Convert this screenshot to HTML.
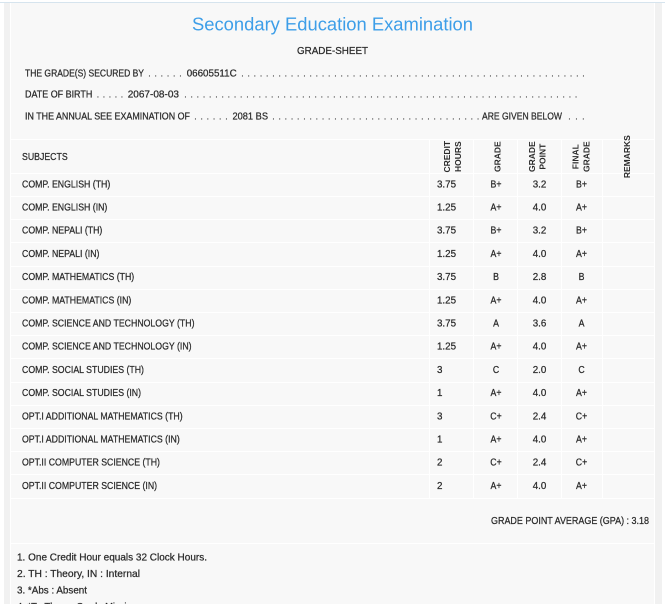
<!DOCTYPE html>
<html><head><meta charset="utf-8"><style>
html,body{margin:0;padding:0;background:#fff;}
svg{display:block;}
.t{font-family:"Liberation Sans",sans-serif;font-size:10.3px;fill:#2b2b2b;stroke:#2b2b2b;stroke-width:0.25px;}
.h{font-family:"Liberation Sans",sans-serif;font-size:8.5px;font-weight:bold;fill:#2b2b2b;}
.d{font-family:"Liberation Sans",sans-serif;font-size:10.3px;fill:#2b2b2b;letter-spacing:3.34px;}
</style></head><body>
<svg width="665" height="604" viewBox="0 0 665 604" xmlns="http://www.w3.org/2000/svg">
<rect x="0" y="0" width="665" height="604" fill="#fff"/>
<rect x="0" y="2" width="665" height="1" fill="#d6e4ee"/>
<rect x="4" y="3" width="658" height="601" fill="#f1f1f1"/>
<rect x="10" y="3" width="645" height="601" fill="#f8f8f8"/>
<rect x="10" y="3" width="1" height="601" fill="#fff"/>
<rect x="654" y="3" width="1" height="601" fill="#fff"/>

<!-- title -->
<text x="192" y="30.5" textLength="281" lengthAdjust="spacingAndGlyphs" style="font-family:'Liberation Sans',sans-serif;font-size:18.5px;fill:#3d9ee8;">Secondary Education Examination</text>
<text class="t" x="297" y="54" textLength="71" lengthAdjust="spacingAndGlyphs" style="font-size:10.5px">GRADE-SHEET</text>

<!-- info lines -->
<text class="t" x="25" y="76.5" textLength="119" lengthAdjust="spacingAndGlyphs">THE GRADE(S) SECURED BY</text>
<text class="d" x="148" y="76.5">......</text>
<text class="t" x="186.7" y="76.5" textLength="50" lengthAdjust="spacingAndGlyphs">06605511C</text>
<text class="d" x="241" y="76.5">........................................................</text>

<text class="t" x="25" y="97.5" textLength="67.3" lengthAdjust="spacingAndGlyphs">DATE OF BIRTH</text>
<text class="d" x="96.5" y="97.5" style="letter-spacing:3.14px">.....</text>
<text class="t" x="127.7" y="97.5" textLength="51.3" lengthAdjust="spacingAndGlyphs">2067-08-03</text>
<text class="d" x="184" y="97.5">................................................................</text>

<text class="t" x="25" y="119.5" textLength="165" lengthAdjust="spacingAndGlyphs">IN THE ANNUAL SEE EXAMINATION OF</text>
<text class="d" x="194" y="119.5">......</text>
<text class="t" x="232.5" y="119.5" textLength="35.5" lengthAdjust="spacingAndGlyphs">2081 BS</text>
<text class="d" x="272" y="119.5">..................................</text>
<text class="t" x="482" y="119.5" textLength="80" lengthAdjust="spacingAndGlyphs">ARE GIVEN BELOW</text>
<text class="d" x="568" y="119.5" style="letter-spacing:4.1px">...</text>

<!-- grid horizontal -->
<g fill="#fff">
<rect x="10" y="139" width="645" height="1"/>
<rect x="10" y="173" width="645" height="1"/>
<rect x="10" y="196" width="645" height="1"/>
<rect x="10" y="219" width="645" height="1"/>
<rect x="10" y="242" width="645" height="1"/>
<rect x="10" y="266" width="645" height="1"/>
<rect x="10" y="289" width="645" height="1"/>
<rect x="10" y="312" width="645" height="1"/>
<rect x="10" y="335" width="645" height="1"/>
<rect x="10" y="358" width="645" height="1"/>
<rect x="10" y="382" width="645" height="1"/>
<rect x="10" y="405" width="645" height="1"/>
<rect x="10" y="428" width="645" height="1"/>
<rect x="10" y="451" width="645" height="1"/>
<rect x="10" y="474" width="645" height="1"/>
<rect x="10" y="498" width="645" height="1"/>
<rect x="10" y="543" width="645" height="1"/>
<!-- vertical -->
<rect x="429" y="139" width="1" height="359"/>
<rect x="473" y="139" width="1" height="359"/>
<rect x="517" y="139" width="1" height="359"/>
<rect x="561" y="139" width="1" height="359"/>
<rect x="602" y="139" width="1" height="359"/>
</g>

<!-- header -->
<text class="t" transform="translate(22 160) scale(0.85 1)">SUBJECTS</text>
<text class="h" transform="translate(450 156.7) rotate(-90)" text-anchor="middle">CREDIT</text>
<text class="h" transform="translate(461 156.7) rotate(-90)" text-anchor="middle">HOURS</text>
<text class="h" transform="translate(500.5 156.7) rotate(-90)" text-anchor="middle">GRADE</text>
<text class="h" transform="translate(535 156.7) rotate(-90)" text-anchor="middle">GRADE</text>
<text class="h" transform="translate(545.5 156.7) rotate(-90)" text-anchor="middle">POINT</text>
<text class="h" transform="translate(578.5 156.7) rotate(-90)" text-anchor="middle">FINAL</text>
<text class="h" transform="translate(589.5 156.7) rotate(-90)" text-anchor="middle">GRADE</text>
<text class="h" transform="translate(630 156.7) rotate(-90)" text-anchor="middle">REMARKS</text>

<!-- rows -->
<text class="t" transform="translate(22 187.3) scale(0.85 1)">COMP. ENGLISH (TH)</text>
<text class="t" transform="translate(22 210.5) scale(0.85 1)">COMP. ENGLISH (IN)</text>
<text class="t" transform="translate(22 233.7) scale(0.85 1)">COMP. NEPALI (TH)</text>
<text class="t" transform="translate(22 256.9) scale(0.85 1)">COMP. NEPALI (IN)</text>
<text class="t" transform="translate(22 280.1) scale(0.85 1)">COMP. MATHEMATICS (TH)</text>
<text class="t" transform="translate(22 303.3) scale(0.85 1)">COMP. MATHEMATICS (IN)</text>
<text class="t" transform="translate(22 326.5) scale(0.85 1)">COMP. SCIENCE AND TECHNOLOGY (TH)</text>
<text class="t" transform="translate(22 349.7) scale(0.85 1)">COMP. SCIENCE AND TECHNOLOGY (IN)</text>
<text class="t" transform="translate(22 372.9) scale(0.85 1)">COMP. SOCIAL STUDIES (TH)</text>
<text class="t" transform="translate(22 396.1) scale(0.85 1)">COMP. SOCIAL STUDIES (IN)</text>
<text class="t" transform="translate(22 419.3) scale(0.85 1)">OPT.I ADDITIONAL MATHEMATICS (TH)</text>
<text class="t" transform="translate(22 442.5) scale(0.85 1)">OPT.I ADDITIONAL MATHEMATICS (IN)</text>
<text class="t" transform="translate(22 465.7) scale(0.85 1)">OPT.II COMPUTER SCIENCE (TH)</text>
<text class="t" transform="translate(22 488.9) scale(0.85 1)">OPT.II COMPUTER SCIENCE (IN)</text>

<!-- credit hours -->
<text class="t" transform="translate(437 187.3) scale(0.95 1)">3.75</text>
<text class="t" transform="translate(437 210.5) scale(0.95 1)">1.25</text>
<text class="t" transform="translate(437 233.7) scale(0.95 1)">3.75</text>
<text class="t" transform="translate(437 256.9) scale(0.95 1)">1.25</text>
<text class="t" transform="translate(437 280.1) scale(0.95 1)">3.75</text>
<text class="t" transform="translate(437 303.3) scale(0.95 1)">1.25</text>
<text class="t" transform="translate(437 326.5) scale(0.95 1)">3.75</text>
<text class="t" transform="translate(437 349.7) scale(0.95 1)">1.25</text>
<text class="t" transform="translate(437 372.9) scale(0.95 1)">3</text>
<text class="t" transform="translate(437 396.1) scale(0.95 1)">1</text>
<text class="t" transform="translate(437 419.3) scale(0.95 1)">3</text>
<text class="t" transform="translate(437 442.5) scale(0.95 1)">1</text>
<text class="t" transform="translate(437 465.7) scale(0.95 1)">2</text>
<text class="t" transform="translate(437 488.9) scale(0.95 1)">2</text>

<!-- grade -->
<text class="t" text-anchor="middle" transform="translate(496 187.3) scale(0.85 1)">B+</text>
<text class="t" text-anchor="middle" transform="translate(496 210.5) scale(0.85 1)">A+</text>
<text class="t" text-anchor="middle" transform="translate(496 233.7) scale(0.85 1)">B+</text>
<text class="t" text-anchor="middle" transform="translate(496 256.9) scale(0.85 1)">A+</text>
<text class="t" text-anchor="middle" transform="translate(496 280.1) scale(0.85 1)">B</text>
<text class="t" text-anchor="middle" transform="translate(496 303.3) scale(0.85 1)">A+</text>
<text class="t" text-anchor="middle" transform="translate(496 326.5) scale(0.85 1)">A</text>
<text class="t" text-anchor="middle" transform="translate(496 349.7) scale(0.85 1)">A+</text>
<text class="t" text-anchor="middle" transform="translate(496 372.9) scale(0.85 1)">C</text>
<text class="t" text-anchor="middle" transform="translate(496 396.1) scale(0.85 1)">A+</text>
<text class="t" text-anchor="middle" transform="translate(496 419.3) scale(0.85 1)">C+</text>
<text class="t" text-anchor="middle" transform="translate(496 442.5) scale(0.85 1)">A+</text>
<text class="t" text-anchor="middle" transform="translate(496 465.7) scale(0.85 1)">C+</text>
<text class="t" text-anchor="middle" transform="translate(496 488.9) scale(0.85 1)">A+</text>

<!-- grade point -->
<text class="t" text-anchor="middle" transform="translate(539.5 187.3) scale(0.95 1)">3.2</text>
<text class="t" text-anchor="middle" transform="translate(539.5 210.5) scale(0.95 1)">4.0</text>
<text class="t" text-anchor="middle" transform="translate(539.5 233.7) scale(0.95 1)">3.2</text>
<text class="t" text-anchor="middle" transform="translate(539.5 256.9) scale(0.95 1)">4.0</text>
<text class="t" text-anchor="middle" transform="translate(539.5 280.1) scale(0.95 1)">2.8</text>
<text class="t" text-anchor="middle" transform="translate(539.5 303.3) scale(0.95 1)">4.0</text>
<text class="t" text-anchor="middle" transform="translate(539.5 326.5) scale(0.95 1)">3.6</text>
<text class="t" text-anchor="middle" transform="translate(539.5 349.7) scale(0.95 1)">4.0</text>
<text class="t" text-anchor="middle" transform="translate(539.5 372.9) scale(0.95 1)">2.0</text>
<text class="t" text-anchor="middle" transform="translate(539.5 396.1) scale(0.95 1)">4.0</text>
<text class="t" text-anchor="middle" transform="translate(539.5 419.3) scale(0.95 1)">2.4</text>
<text class="t" text-anchor="middle" transform="translate(539.5 442.5) scale(0.95 1)">4.0</text>
<text class="t" text-anchor="middle" transform="translate(539.5 465.7) scale(0.95 1)">2.4</text>
<text class="t" text-anchor="middle" transform="translate(539.5 488.9) scale(0.95 1)">4.0</text>

<!-- final grade -->
<text class="t" text-anchor="middle" transform="translate(581.5 187.3) scale(0.85 1)">B+</text>
<text class="t" text-anchor="middle" transform="translate(581.5 210.5) scale(0.85 1)">A+</text>
<text class="t" text-anchor="middle" transform="translate(581.5 233.7) scale(0.85 1)">B+</text>
<text class="t" text-anchor="middle" transform="translate(581.5 256.9) scale(0.85 1)">A+</text>
<text class="t" text-anchor="middle" transform="translate(581.5 280.1) scale(0.85 1)">B</text>
<text class="t" text-anchor="middle" transform="translate(581.5 303.3) scale(0.85 1)">A+</text>
<text class="t" text-anchor="middle" transform="translate(581.5 326.5) scale(0.85 1)">A</text>
<text class="t" text-anchor="middle" transform="translate(581.5 349.7) scale(0.85 1)">A+</text>
<text class="t" text-anchor="middle" transform="translate(581.5 372.9) scale(0.85 1)">C</text>
<text class="t" text-anchor="middle" transform="translate(581.5 396.1) scale(0.85 1)">A+</text>
<text class="t" text-anchor="middle" transform="translate(581.5 419.3) scale(0.85 1)">C+</text>
<text class="t" text-anchor="middle" transform="translate(581.5 442.5) scale(0.85 1)">A+</text>
<text class="t" text-anchor="middle" transform="translate(581.5 465.7) scale(0.85 1)">C+</text>
<text class="t" text-anchor="middle" transform="translate(581.5 488.9) scale(0.85 1)">A+</text>

<!-- GPA -->
<text class="t" x="491" y="524" textLength="158" lengthAdjust="spacingAndGlyphs">GRADE POINT AVERAGE (GPA) : 3.18</text>

<!-- notes -->
<text class="t" x="17" y="560.5" textLength="190" lengthAdjust="spacingAndGlyphs">1. One Credit Hour equals 32 Clock Hours.</text>
<text class="t" x="17" y="577" textLength="123" lengthAdjust="spacingAndGlyphs">2. TH : Theory, IN : Internal</text>
<text class="t" x="17" y="593.5" textLength="70" lengthAdjust="spacingAndGlyphs">3. *Abs : Absent</text>
<text class="t" x="17" y="610" textLength="120" lengthAdjust="spacingAndGlyphs">4. *T : Theory Grade Missing</text>
</svg>
</body></html>
